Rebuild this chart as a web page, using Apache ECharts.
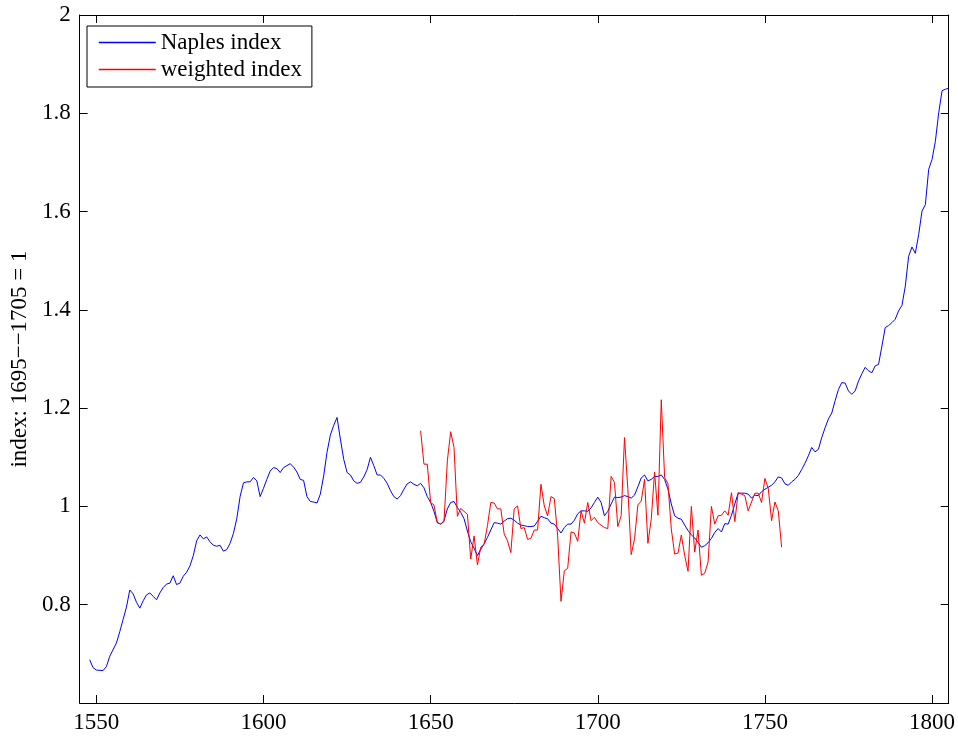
<!DOCTYPE html>
<html>
<head>
<meta charset="utf-8">
<script src="https://cdn.jsdelivr.net/npm/echarts@6/dist/echarts.min.js"></script>
<style>
html, body { margin: 0; padding: 0; background: #fff; }
#main { width: 958px; height: 736px; }
</style>
</head>
<body>
<div id="main"></div>
<script>
var naplesYears = [1548,1549,1550,1552,1553,1554,1556,1557,1558,1559,1560,1561,1562,1563,1564,1565,1566,1567,1568,1569,
	1570,1571,1572,1573,1574,1575,1576,1577,1578,1579,1580,1581,1582,1583,1584,1585,1586,1587,1588,1589,
	1590,1591,1592,1593,1594,1595,1596,1597,1598,1599,1600,1601,1602,1603,1604,1605,1606,1607,1608,1609,
	1610,1611,1612,1613,1614,1615,1616,1617,1618,1619,1620,1621,1622,1623,1624,1625,1626,1627,1628,1629,
	1630,1631,1632,1633,1634,1635,1636,1637,1638,1639,1640,1641,1642,1643,1644,1645,1646,1647,1648,1649,
	1650,1651,1652,1653,1654,1655,1656,1657,1658,1659,1660,1661,1662,1663,1664,1665,1666,1667,1668,1669,
	1670,1671,1672,1673,1674,1675,1676,1677,1678,1679,1680,1681,1682,1683,1684,1685,1686,1687,1688,1689,
	1690,1691,1692,1693,1694,1695,1696,1697,1698,1699,1700,1701,1702,1703,1704,1705,1706,1707,1708,1709,
	1710,1711,1712,1713,1714,1715,1716,1717,1718,1719,1720,1721,1722,1723,1724,1725,1726,1727,1728,1729,
	1730,1731,1732,1733,1734,1735,1736,1737,1738,1739,1740,1741,1742,1743,1744,1745,1746,1747,1748,1749,
	1750,1751,1752,1753,1754,1755,1756,1757,1758,1759,1760,1761,1762,1763,1764,1765,1766,1767,1768,1769,
	1770,1771,1772,1773,1774,1775,1776,1777,1778,1779,1780,1781,1782,1783,1784,1785,1786,1787,1788,1789,
	1790,1791,1792,1793,1794,1795,1796,1797,1798,1799,1800,1801,1802,1803,1804,1805];

var naplesIndex = [0.688,0.672,0.667,0.666,0.674,0.695,0.722,0.745,0.770,0.795,0.830,0.822,0.805,0.793,0.808,0.820,0.824,0.817,0.810,0.824,
	0.835,0.842,0.844,0.859,0.841,0.844,0.858,0.866,0.879,0.900,0.930,0.942,0.934,0.938,0.928,0.921,0.919,0.921,0.909,0.912,
	0.925,0.945,0.975,1.020,1.048,1.050,1.050,1.059,1.052,1.020,1.037,1.055,1.072,1.079,1.077,1.069,1.079,1.083,1.087,1.080,
	1.070,1.055,1.053,1.020,1.010,1.009,1.007,1.025,1.062,1.110,1.145,1.165,1.181,1.137,1.096,1.069,1.064,1.052,1.047,1.049,
	1.060,1.075,1.100,1.083,1.064,1.064,1.057,1.047,1.032,1.020,1.015,1.022,1.035,1.046,1.050,1.045,1.042,1.047,1.038,1.020,
	1.008,0.990,0.967,0.964,0.971,0.995,1.008,1.010,0.998,0.988,0.975,0.950,0.928,0.915,0.900,0.913,0.924,0.937,0.952,0.967,
	0.966,0.964,0.970,0.975,0.976,0.972,0.966,0.962,0.961,0.959,0.959,0.960,0.970,0.980,0.977,0.975,0.966,0.964,0.955,0.946,
	0.957,0.964,0.964,0.972,0.985,0.991,0.991,0.990,0.997,1.008,1.019,1.008,0.981,0.990,1.005,1.019,1.018,1.019,1.022,1.020,
	1.017,1.023,1.040,1.058,1.064,1.052,1.055,1.061,1.061,1.064,1.055,1.035,1.005,0.981,0.976,0.974,0.962,0.951,0.942,0.936,
	0.927,0.917,0.920,0.926,0.935,0.947,0.955,0.948,0.965,0.964,0.982,1.005,1.027,1.027,1.027,1.025,1.017,1.023,1.022,1.030,
	1.035,1.039,1.043,1.050,1.060,1.058,1.046,1.043,1.050,1.055,1.063,1.075,1.088,1.103,1.120,1.111,1.116,1.140,1.160,1.178,
	1.190,1.215,1.238,1.252,1.251,1.235,1.228,1.235,1.255,1.270,1.283,1.276,1.272,1.286,1.289,1.326,1.364,1.368,1.374,1.381,
	1.398,1.409,1.448,1.509,1.528,1.515,1.553,1.601,1.614,1.686,1.706,1.743,1.801,1.846,1.849,1.851];

// weighted index, one value a year from 1647 to 1755
var weightedStart = 1647;
var weightedIndex = [1.154,1.086,1.086,1.008,1.003,0.967,0.964,0.969,1.093,1.152,1.120,0.980,0.996,0.990,0.984,0.893,0.940,0.881,0.917,0.923,
	0.961,1.008,1.007,0.995,0.995,0.944,0.930,0.906,0.995,1.001,0.955,0.957,0.933,0.935,0.952,0.952,1.045,1.001,0.981,1.020,
	1.016,0.940,0.807,0.869,0.874,0.948,0.946,0.929,0.991,0.966,1.008,0.971,0.978,0.967,0.962,0.957,0.955,1.061,1.049,0.959,
	0.981,1.140,1.035,0.902,0.934,1.003,1.011,1.055,0.925,0.974,1.070,0.982,1.217,1.059,1.046,0.954,0.903,0.905,0.942,0.900,
	0.868,1.000,0.907,0.952,0.860,0.864,0.887,1.000,0.964,0.981,0.982,0.991,0.982,1.028,0.969,1.028,1.025,1.022,0.991,1.009,
	1.027,1.027,1.008,1.057,1.037,0.971,1.009,0.991,0.917];

var xTicks = [1550, 1600, 1650, 1700, 1750, 1800];
var yTicks = [0.8, 1, 1.2, 1.4, 1.6, 1.8, 2];

var myChart = echarts.init(document.getElementById('main'));

function pairs(xs, ys){
	var out = [];
	for (var i = 0; i < ys.length; i++) {
		out.push([xs[i], ys[i]]);
	}
	return out;
}

var weightedYears = [];
for (var k = 0; k < weightedIndex.length; k++) {
	weightedYears.push(weightedStart + k);
}

var font = 'Liberation Serif';
var fsize = 23;
var blue = '#0000ff', red = '#ff0000';
var lineStyleAxis = {color: '#000', width: 1};
var tickStyle = {color: '#000', width: 1};

function xAx(pos, showLabel){
	return {
		type: 'value',
		position: pos,
		min: 1545,
		max: 1805,
		axisLine: {show: true, onZero: false, lineStyle: lineStyleAxis},
		axisTick: {show: true, inside: true, length: 8, lineStyle: tickStyle, customValues: xTicks},
		axisLabel: {
			show: showLabel, customValues: xTicks, color: '#000', fontFamily: font, fontSize: fsize, margin: 8,
			formatter: function (v) { return String(v); }
		},
		splitLine: {show: false}
	};
}

function yAx(pos, showLabel){
	return {
		type: 'value',
		position: pos,
		min: 0.6,
		max: 2,
		axisLine: {show: true, onZero: false, lineStyle: lineStyleAxis},
		axisTick: {show: true, inside: true, length: 8, lineStyle: tickStyle, customValues: yTicks},
		axisLabel: {
			show: showLabel, customValues: yTicks, color: '#000', fontFamily: font, fontSize: fsize, margin: 9,
			formatter: function (v) { return String(Math.round(v * 10) / 10); }
		},
		splitLine: {show: false}
	};
}

var yLeft = yAx('left', true);
yLeft.name = 'index: 1695\u2212\u22121705 = 1';
yLeft.nameLocation = 'middle';
yLeft.nameGap = 44;
yLeft.nameTextStyle = {color: '#000', fontFamily: font, fontSize: fsize};

var option = {
	animation: false,
	backgroundColor: '#fff',
	grid: {left: 78, right: 9, top: 15, bottom: 33, containLabel: false},
	legend: {
		orient: 'vertical',
		left: 87,
		top: 26,
		backgroundColor: '#fff',
		borderColor: '#000',
		borderWidth: 1,
		padding: [5, 10, 6, 11],
		itemGap: 4,
		itemWidth: 57,
		itemHeight: 14,
		textStyle: {color: '#000', fontFamily: font, fontSize: fsize},
		data: [
			{name: 'Naples index', itemStyle: {opacity: 0}, lineStyle: {color: blue, width: 1.5}},
			{name: 'weighted index', itemStyle: {opacity: 0}, lineStyle: {color: red, width: 1.5}}
		]
	},
	xAxis: [xAx('bottom', true), xAx('top', false)],
	yAxis: [yLeft, yAx('right', false)],
	series: [
		{
			name: 'Naples index',
			type: 'line',
			symbol: 'none',
			color: blue,
			data: pairs(naplesYears, naplesIndex),
			lineStyle: {color: blue, width: 1},
			itemStyle: {color: blue}
		},
		{
			name: 'weighted index',
			type: 'line',
			symbol: 'none',
			color: red,
			data: pairs(weightedYears, weightedIndex),
			lineStyle: {color: red, width: 1},
			itemStyle: {color: red}
		}
	]
};

myChart.setOption(option);
</script>
</body>
</html>
